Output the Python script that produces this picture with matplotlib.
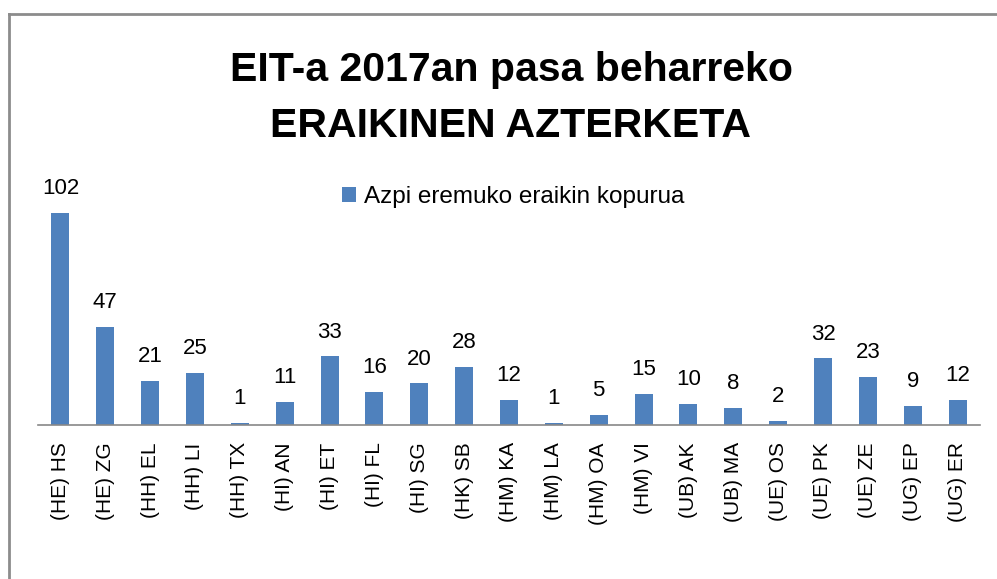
import matplotlib.pyplot as plt
from matplotlib.lines import Line2D

names = ["(HE) HS", "(HE) ZG", "(HH) EL", "(HH) LI", "(HH) TX", "(HI) AN", "(HI) ET",
         "(HI) FL", "(HI) SG", "(HK) SB", "(HM) KA", "(HM) LA", "(HM) OA", "(HM) VI",
         "(UB) AK", "(UB) MA", "(UE) OS", "(UE) PK", "(UE) ZE", "(UG) EP", "(UG) ER"]
counts = [102, 47, 21, 25, 1, 11, 33, 16, 20, 28, 12, 1, 5, 15, 10, 8, 2, 32, 23, 9, 12]

series_name = "Azpi eremuko eraikin kopurua"
title_lines = ["EIT-a 2017an pasa beharreko", "ERAIKINEN AZTERKETA"]

plt.rcParams['font.family'] = ['Liberation Sans', 'DejaVu Sans']

W, H = 997, 579
fig = plt.figure(figsize=(W / 100, H / 100), dpi=100)

# axes placed in pixel terms: baseline at y=425, plot from x=38 to x=980
ax_left, ax_right, base_y, top_y = 38, 980, 425, 175
ax = fig.add_axes([ax_left / W, (H - base_y) / H, (ax_right - ax_left) / W, (base_y - top_y) / H])

x = range(len(names))
ax.bar(x, counts, width=0.4, color="#4F81BD", label=series_name)
ax.set_xlim(-0.5, len(names) - 0.5)
ax.set_ylim(0, (base_y - top_y) / 212 * 102)

for xi, v in zip(x, counts):
    ax.annotate(str(v), (xi, v), xytext=(0, 10), textcoords="offset points",
                ha="center", va="bottom", fontsize=16, annotation_clip=False)

ax.set_xticks(list(x))
ax.set_xticklabels(names, rotation=90, fontsize=15)
ax.tick_params(axis="x", length=0, pad=12.5)
ax.set_yticks([])
for s in ["top", "right", "left"]:
    ax.spines[s].set_visible(False)
ax.spines["bottom"].set_color("#888888")
ax.spines["bottom"].set_linewidth(1.2)

for line, base in zip(title_lines, [81, 137]):
    fig.text(511 / W, 1 - base / H, line, ha="center", va="baseline", fontsize=29.5,
             fontweight="bold")

fig.legend(loc="center", bbox_to_anchor=(513 / W, 1 - 197 / H), frameon=False,
           fontsize=17.5, handlelength=0.6, handleheight=0.6, handletextpad=0.3)

# chart frame, cut off at right and bottom
fig.add_artist(Line2D([9 / W, 1], [1 - 14 / H, 1 - 14 / H], color="#8c8c8c", lw=2))
fig.add_artist(Line2D([9 / W, 9 / W], [0, 1 - 14 / H], color="#8c8c8c", lw=2))

fig.savefig("out.png", dpi=100)
